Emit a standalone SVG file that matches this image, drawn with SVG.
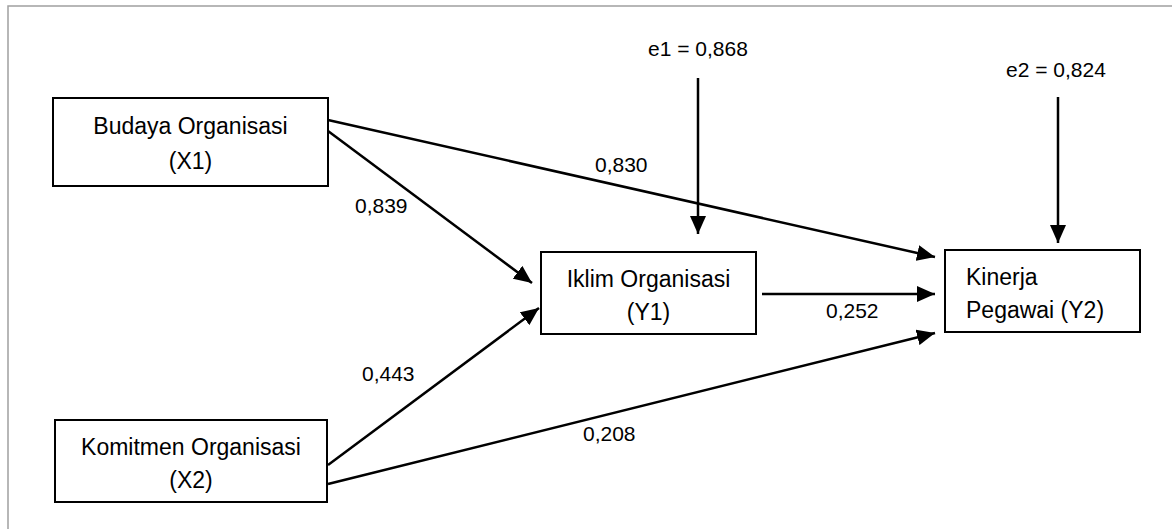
<svg xmlns="http://www.w3.org/2000/svg" width="1172" height="529" viewBox="0 0 1172 529">
<style>
  .box { fill: #ffffff; stroke: #000000; stroke-width: 2; }
  .node-text { font-family: "Liberation Sans", Arial, sans-serif; font-size: 23px; fill: #000000; }
  .label { font-family: "Liberation Sans", Arial, sans-serif; font-size: 21px; fill: #000000; }
  .conn { stroke: #000000; stroke-width: 2.5; fill: none; marker-end: url(#arrow); }
</style>
<defs>
  <marker id="arrow" markerUnits="userSpaceOnUse" markerWidth="18" markerHeight="16" viewBox="0 0 18 16" refX="18" refY="8" orient="auto">
    <path d="M0,0 L18,8 L0,16 Z" fill="#000000"/>
  </marker>
</defs>
<rect x="0" y="0" width="1172" height="529" fill="#ffffff"/>
<rect x="8" y="6" width="1200" height="600" fill="none" stroke="#a0a0a0" stroke-width="1.5"/>

<g id="connectors">
  <line class="conn" x1="328" y1="120" x2="935" y2="257"/>
  <line class="conn" x1="328" y1="131" x2="532" y2="283"/>
  <line class="conn" x1="328" y1="465" x2="539" y2="308"/>
  <line class="conn" x1="328" y1="484" x2="935" y2="333"/>
  <line class="conn" x1="762" y1="294" x2="935" y2="294"/>
  <line class="conn" x1="698" y1="78" x2="698" y2="234"/>
  <line class="conn" x1="1058" y1="97" x2="1058" y2="243"/>
  <text class="label" x="595" y="172">0,830</text>
  <text class="label" x="355" y="213">0,839</text>
  <text class="label" x="362" y="381">0,443</text>
  <text class="label" x="583" y="441">0,208</text>
  <text class="label" x="826" y="318">0,252</text>
  <text class="label" x="648" y="56">e1 = 0,868</text>
  <text class="label" x="1006" y="77">e2 = 0,824</text>
</g>

<g id="budaya">
  <rect class="box" x="53" y="98" width="275" height="88"/>
  <text class="node-text" x="190.5" y="134" text-anchor="middle">Budaya Organisasi</text>
  <text class="node-text" x="190.5" y="169" text-anchor="middle">(X1)</text>
</g>
<g id="komitmen">
  <rect class="box" x="55" y="420" width="272" height="82"/>
  <text class="node-text" x="191" y="455" text-anchor="middle">Komitmen Organisasi</text>
  <text class="node-text" x="191" y="488" text-anchor="middle">(X2)</text>
</g>
<g id="iklim">
  <rect class="box" x="541" y="252" width="215" height="82"/>
  <text class="node-text" x="648.5" y="287" text-anchor="middle">Iklim Organisasi</text>
  <text class="node-text" x="648.5" y="320" text-anchor="middle">(Y1)</text>
</g>
<g id="kinerja">
  <rect class="box" x="945" y="250" width="195" height="82"/>
  <text class="node-text" x="966" y="285">Kinerja</text>
  <text class="node-text" x="966" y="318">Pegawai (Y2)</text>
</g>
</svg>
